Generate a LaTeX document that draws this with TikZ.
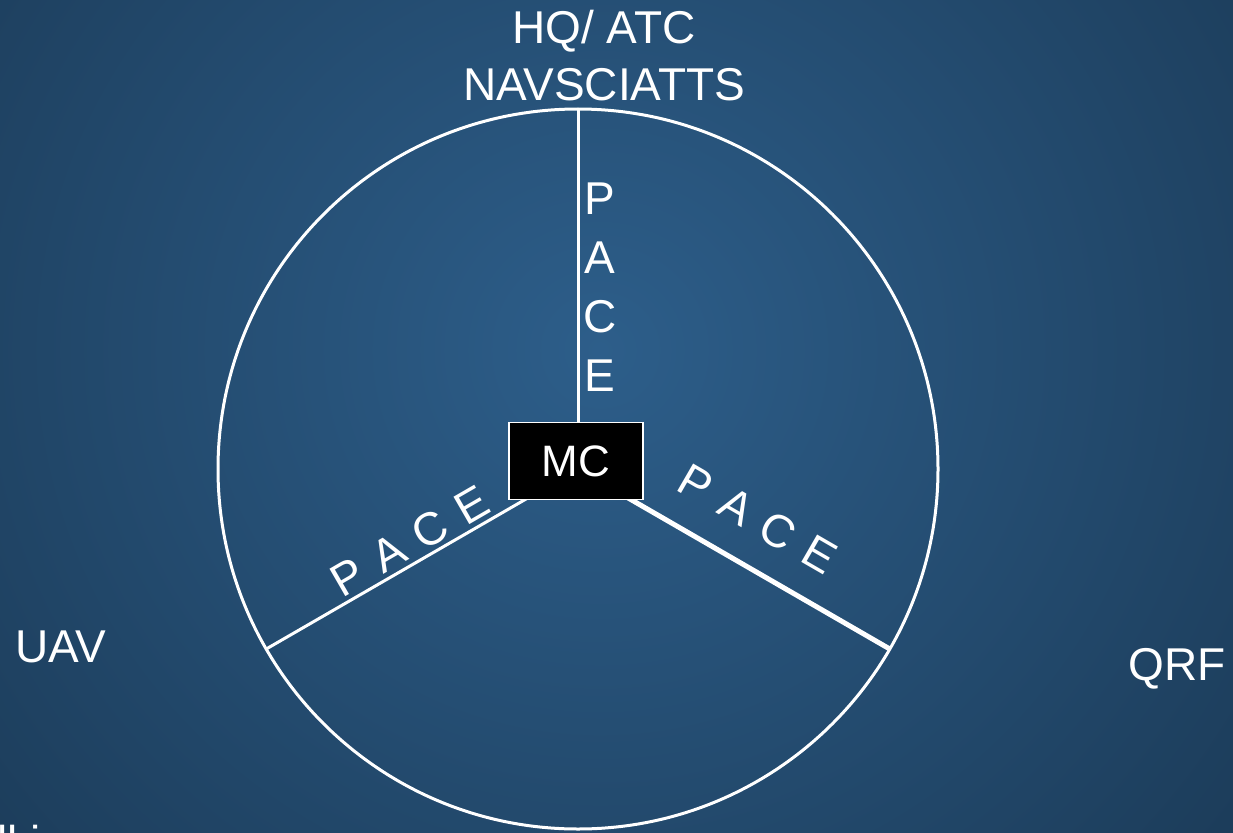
\documentclass[tikz,border=0pt]{standalone}
\usepackage{fontspec}
\usetikzlibrary{calc}
\setmainfont{Liberation Sans}
\definecolor{bginner}{HTML}{2D5E8A}
\definecolor{bgouter}{HTML}{07131F}
\tikzset{
  lbl/.style={text=white, inner sep=0pt, font=\fontsize{46}{57}\selectfont, align=center},
  spoke/.style={draw=white, line width=3pt},
  mcbox/.style={fill=black, draw=white, line width=1.5pt, text=white, minimum width=134pt, minimum height=77pt, inner sep=0pt, font=\fontsize{44}{50}\selectfont}
}
\newcommand{\spc}{\hspace{0.35em}}
\begin{document}
\begin{tikzpicture}[x=1pt, y=-1pt]
\useasboundingbox (0,0) rectangle (1233,832);
\begin{scope}
\clip (0,0) rectangle (1233,832);
\shade[inner color=bginner, outer color=bgouter] (-1200,-1400) rectangle (2400,2100);
% circle and spokes
\coordinate (c) at (578,469);
\coordinate (top) at ($(c)+(90:360pt)$);
\coordinate (left) at ($(c)+(210:360pt)$);
\coordinate (right) at ($(c)+(-30:360pt)$);
\draw[white, line width=3pt] (c) circle[radius=360pt];
\draw[spoke] (c) -- (top);
\draw[spoke] (c) -- (left);
\draw[spoke, line width=5pt] (c) -- (right);
\node[mcbox] (mc) at (576,461) {MC};
% labels
\node[lbl] (hq) at (604,56) {HQ/ ATC\\NAVSCIATTS};
\node[lbl, font=\fontsize{46}{59}\selectfont] (pacev) at (600,287) {P\\A\\C\\E};
\node[lbl, rotate=30] (pacel) at (410,541) {P\spc A\spc C\spc E};
\node[lbl, rotate=-30] (pacer) at (758,519) {P\spc A\spc C\spc E};
\node[lbl] (uav) at (61,647) {UAV};
\node[lbl] (qrf) at (1177,669) {QRF};
\node[lbl, anchor=base west] (cut) at (-3,858) {ll i};
\end{scope}
\end{tikzpicture}
\end{document}
